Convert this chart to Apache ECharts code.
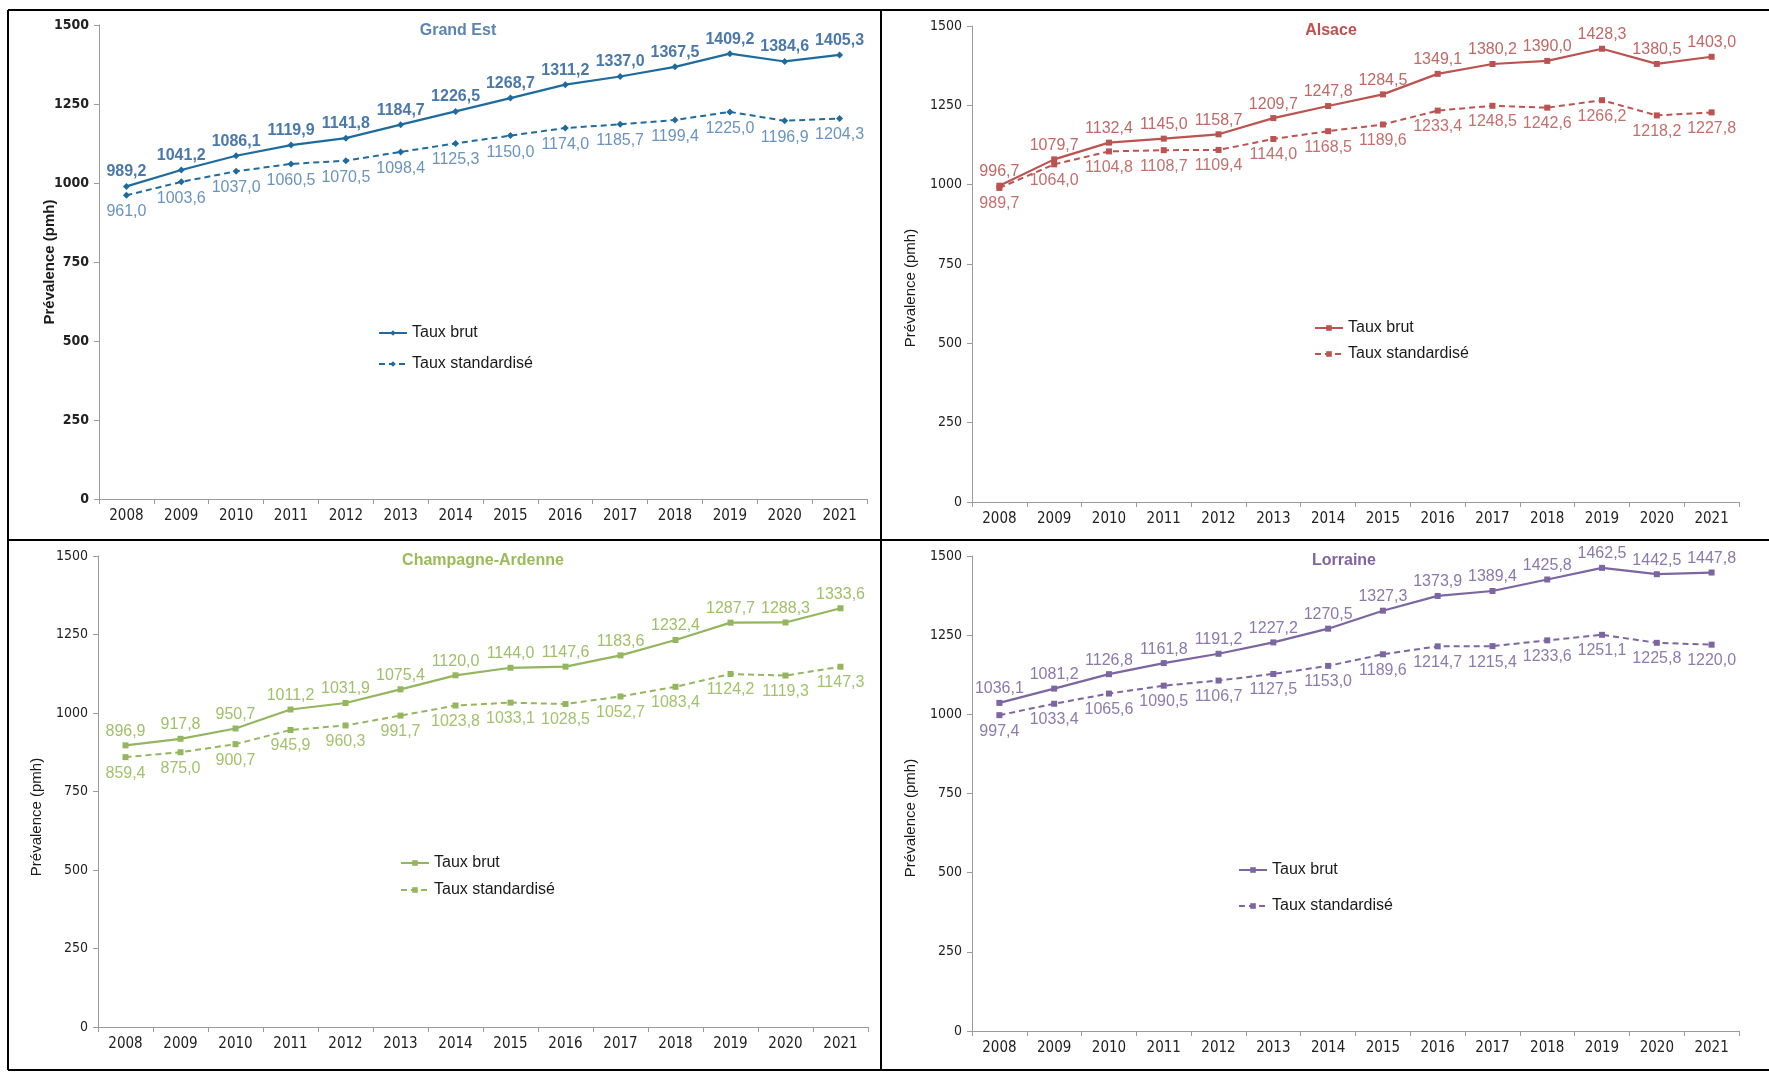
<!DOCTYPE html>
<html lang="fr">
<head>
<meta charset="utf-8">
<title>Prévalence (pmh) – Grand Est, Alsace, Champagne-Ardenne, Lorraine</title>
<script src="https://cdn.jsdelivr.net/npm/echarts@6/dist/echarts.min.js"></script>
<style>
  html, body { margin: 0; padding: 0; background: #fff; }
  #chart { width: 1769px; height: 1073px; }
</style>
</head>
<body>
<div id="chart"></div>
<script>
// Années et taux de prévalence (pmh)
const years = ['2008','2009','2010','2011','2012','2013','2014','2015','2016','2017','2018','2019','2020','2021'];
const yTicks = { min: 0, max: 1500, interval: 250 };

const grandEstBrut = [989.2, 1041.2, 1086.1, 1119.9, 1141.8, 1184.7, 1226.5, 1268.7, 1311.2, 1337.0, 1367.5, 1409.2, 1384.6, 1405.3];
const grandEstStd  = [961.0, 1003.6, 1037.0, 1060.5, 1070.5, 1098.4, 1125.3, 1150.0, 1174.0, 1185.7, 1199.4, 1225.0, 1196.9, 1204.3];

const alsaceBrut = [996.7, 1079.7, 1132.4, 1145.0, 1158.7, 1209.7, 1247.8, 1284.5, 1349.1, 1380.2, 1390.0, 1428.3, 1380.5, 1403.0];
const alsaceStd  = [989.7, 1064.0, 1104.8, 1108.7, 1109.4, 1144.0, 1168.5, 1189.6, 1233.4, 1248.5, 1242.6, 1266.2, 1218.2, 1227.8];

const champagneBrut = [896.9, 917.8, 950.7, 1011.2, 1031.9, 1075.4, 1120.0, 1144.0, 1147.6, 1183.6, 1232.4, 1287.7, 1288.3, 1333.6];
const champagneStd  = [859.4, 875.0, 900.7, 945.9, 960.3, 991.7, 1023.8, 1033.1, 1028.5, 1052.7, 1083.4, 1124.2, 1119.3, 1147.3];

const lorraineBrut = [1036.1, 1081.2, 1126.8, 1161.8, 1191.2, 1227.2, 1270.5, 1327.3, 1373.9, 1389.4, 1425.8, 1462.5, 1442.5, 1447.8];
const lorraineStd  = [997.4, 1033.4, 1065.6, 1090.5, 1106.7, 1127.5, 1153.0, 1189.6, 1214.7, 1215.4, 1233.6, 1251.1, 1225.8, 1220.0];

const seriesLabels = ['Taux brut', 'Taux standardisé'];
const yAxisTitle = 'Prévalence (pmh)';

const SANS = "'Liberation Sans', Arial, sans-serif";
const NARROW = "'Liberation Sans Narrow', 'Arial Narrow', 'DejaVu Sans Condensed', 'Liberation Sans', sans-serif";

// Four panels, one per region
const panels = [
  {
    title: 'Grand Est', brut: grandEstBrut, std: grandEstStd,
    grid: { left: 99, top: 25, width: 768, height: 474 },
    titlePos: [458, 31], namePos: [50, 262], bold: true,
    legendPos: [378, 325], legendGap: 15, symbol: 'diamond', symbolSize: 7,
    line: '#1f6b9d', title_c: '#5a84b4', labelBrut: '#4a78aa', labelStd: '#6a93bf'
  },
  {
    title: 'Alsace', brut: alsaceBrut, std: alsaceStd,
    grid: { left: 972, top: 26, width: 767, height: 476 },
    titlePos: [1331, 31], namePos: [911, 288], bold: false,
    legendPos: [1314, 320], legendGap: 10, symbol: 'rect', symbolSize: 6,
    line: '#bb5350', title_c: '#c0504d', labelBrut: '#c06866', labelStd: '#c46f6d'
  },
  {
    title: 'Champagne-Ardenne', brut: champagneBrut, std: champagneStd,
    grid: { left: 98, top: 556, width: 770, height: 471 },
    titlePos: [483, 561], namePos: [37, 817], bold: false,
    legendPos: [400, 855], legendGap: 11, symbol: 'rect', symbolSize: 6,
    line: '#93b65e', title_c: '#9bbb59', labelBrut: '#9fbf68', labelStd: '#a3c26d'
  },
  {
    title: 'Lorraine', brut: lorraineBrut, std: lorraineStd,
    grid: { left: 972, top: 556, width: 767, height: 475 },
    titlePos: [1344, 561], namePos: [911, 818], bold: false,
    legendPos: [1238, 862], legendGap: 20, symbol: 'rect', symbolSize: 6,
    line: '#7d65a2', title_c: '#8064a2', labelBrut: '#8a78ad', labelStd: '#8c7bae'
  }
];

const fmt = v => v.toFixed(1).replace('.', ',');
const AXIS_GREY = '#9b9b9b';

const grids = [], xAxes = [], yAxes = [], series = [], legends = [], graphics = [];

panels.forEach((p, i) => {
  grids.push(Object.assign({ containLabel: false }, p.grid));

  xAxes.push({
    type: 'category', gridIndex: i, data: years, boundaryGap: true,
    axisLine: { lineStyle: { color: AXIS_GREY, width: 1 } },
    axisTick: { show: true, length: 5, lineStyle: { color: AXIS_GREY } },
    axisLabel: { fontFamily: NARROW, fontSize: 15, color: '#222', margin: 10 },
    splitLine: { show: false }
  });

  yAxes.push({
    type: 'value', gridIndex: i, min: yTicks.min, max: yTicks.max, interval: yTicks.interval,
    axisLine: { show: true, lineStyle: { color: AXIS_GREY, width: 1 } },
    axisTick: { show: true, length: 5, lineStyle: { color: AXIS_GREY } },
    axisLabel: {
      fontFamily: NARROW, fontSize: 14, color: '#222', margin: 10,
      fontWeight: p.bold ? 'bold' : 'normal', formatter: v => String(v)
    },
    splitLine: { show: false }
  });

  const nameBrut = p.title + ' – ' + seriesLabels[0];
  const nameStd = p.title + ' – ' + seriesLabels[1];

  series.push({
    type: 'line', name: nameBrut, xAxisIndex: i, yAxisIndex: i, data: p.brut,
    symbol: p.symbol, symbolSize: p.symbolSize, z: 3,
    lineStyle: { color: p.line, width: 2.2 }, itemStyle: { color: p.line },
    label: {
      show: true, position: 'top', distance: 3, formatter: d => fmt(d.value),
      fontFamily: SANS, fontSize: 16, color: p.labelBrut, fontWeight: p.bold ? 'bold' : 'normal'
    }
  });
  series.push({
    type: 'line', name: nameStd, xAxisIndex: i, yAxisIndex: i, data: p.std,
    symbol: p.symbol, symbolSize: p.symbolSize, z: 2,
    lineStyle: { color: p.line, width: 2, type: [6, 4] }, itemStyle: { color: p.line },
    label: {
      show: true, position: 'bottom', distance: 5, formatter: d => fmt(d.value),
      fontFamily: SANS, fontSize: 16, color: p.labelStd
    }
  });

  legends.push({
    data: [nameBrut, nameStd], orient: 'vertical',
    left: p.legendPos[0], top: p.legendPos[1], itemGap: p.legendGap,
    itemWidth: 28, itemHeight: 7, selectedMode: false, padding: 0,
    formatter: n => n.split(' – ')[1],
    textStyle: { fontFamily: SANS, fontSize: 16, color: '#1a1a1a' }
  });

  // Panel title
  graphics.push({
    type: 'text', x: p.titlePos[0], y: p.titlePos[1], silent: true,
    style: {
      text: p.title, fill: p.title_c, font: 'bold 16px ' + SANS,
      textAlign: 'center', textVerticalAlign: 'middle', align: 'center', verticalAlign: 'middle'
    }
  });
  // Vertical axis title
  graphics.push({
    type: 'text', x: p.namePos[0], y: p.namePos[1], rotation: Math.PI / 2, silent: true,
    style: {
      text: yAxisTitle, fill: '#1a1a1a', font: (p.bold ? 'bold ' : '') + '15px ' + SANS,
      textAlign: 'center', textVerticalAlign: 'middle', align: 'center', verticalAlign: 'middle'
    }
  });
});

// Frame around the four panels
const frame = [
  [8, 10, 1769, 10], [8, 540, 1769, 540], [8, 1070, 1769, 1070],
  [8, 10, 8, 1070], [881, 10, 881, 1070]
];
frame.forEach(([x1, y1, x2, y2]) => {
  graphics.push({
    type: 'line', silent: true, z: 10,
    shape: { x1, y1, x2, y2 },
    style: { stroke: '#000', lineWidth: 2 }
  });
});

const chart = echarts.init(document.getElementById('chart'), null, { renderer: 'canvas' });
chart.setOption({
  backgroundColor: '#fff',
  animation: false,
  grid: grids,
  xAxis: xAxes,
  yAxis: yAxes,
  legend: legends,
  series: series,
  graphic: graphics
});
</script>
</body>
</html>
